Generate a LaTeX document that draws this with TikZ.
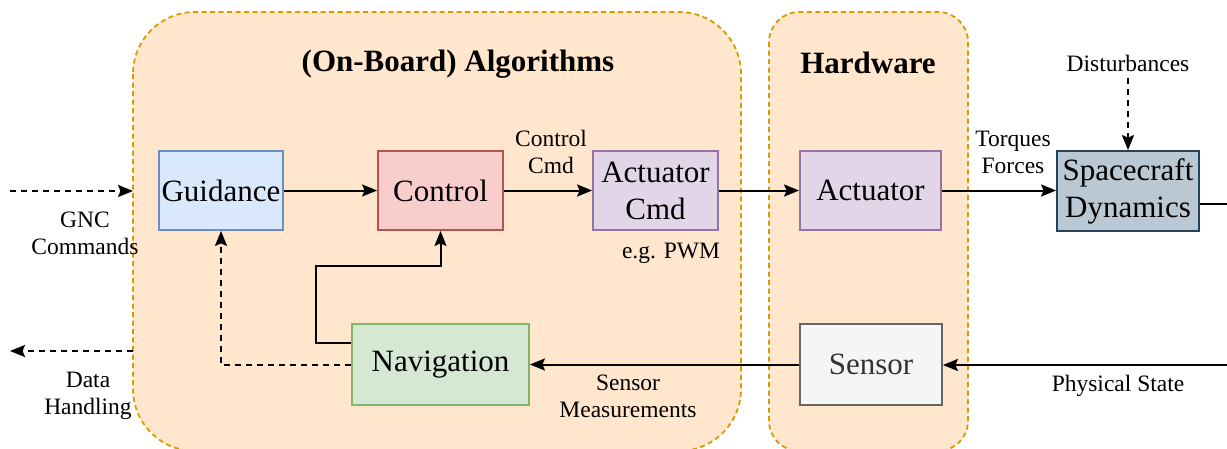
\documentclass[tikz,border=0pt]{standalone}
\usepackage{fontspec}
\setmainfont{Liberation Serif}
\newfontfamily\boxfont{Liberation Serif}
\usetikzlibrary{arrows.meta}
\definecolor{contfill}{HTML}{FFE6CC}
\definecolor{contdraw}{HTML}{D79B00}
\definecolor{blueF}{HTML}{DAE8FC}\definecolor{blueD}{HTML}{6C8EBF}
\definecolor{redF}{HTML}{F8CECC}\definecolor{redD}{HTML}{B85450}
\definecolor{purpF}{HTML}{E1D5E7}\definecolor{purpD}{HTML}{9673A6}
\definecolor{greenF}{HTML}{D5E8D4}\definecolor{greenD}{HTML}{82B366}
\definecolor{greyF}{HTML}{F5F5F5}\definecolor{greyD}{HTML}{666666}\definecolor{greyT}{HTML}{333333}
\definecolor{scF}{HTML}{BAC8D3}\definecolor{scD}{HTML}{23445D}
\tikzset{
  container/.style={draw=contdraw, fill=contfill, line width=1.8pt, dash pattern=on 5pt off 3.5pt},
  block/.style={draw, line width=1.8pt, inner sep=0pt, align=center,
    font=\boxfont\fontsize{31}{37}\selectfont},
  lbl/.style={inner sep=0pt, align=center, font=\boxfont\fontsize{23.5}{27}\selectfont},
  ttl/.style={inner sep=0pt, font=\boxfont\fontsize{31}{37}\selectfont\bfseries},
  arr/.style={line width=2pt, -{Stealth[length=15pt,width=12pt,inset=2.5pt]}},
  darr/.style={arr, dash pattern=on 6pt off 5pt},
}
\begin{document}
\begin{tikzpicture}[x=1pt,y=-1pt]
\useasboundingbox (0,0) rectangle (1227,448);
\clip (0,0) rectangle (1227,448);
% containers
\draw[container, rounded corners=62pt] (133,12) rectangle (741,451);
\draw[container, rounded corners=30pt] (769,12) rectangle (968,451);
\node[ttl] (talg) at (458,64) {(On-Board) Algorithms};
\node[ttl] (thw) at (868,63) {Hardware};
% blocks
\node[block, fill=blueF, draw=blueD, minimum width=124pt, minimum height=79pt] (guid) at (221,190.5) {Guidance};
\node[block, fill=redF, draw=redD, minimum width=125pt, minimum height=79pt] (ctrl) at (440.5,190.5) {Control};
\node[block, fill=purpF, draw=purpD, minimum width=125pt, minimum height=79pt] (acmd) at (655.5,190.5) {Actuator\\Cmd};
\node[block, fill=purpF, draw=purpD, minimum width=141pt, minimum height=79pt] (act) at (870.5,190.5) {Actuator};
\node[block, fill=scF, draw=scD, minimum width=142pt, minimum height=80pt] (sc) at (1128,191) {Spacecraft\\Dynamics};
\node[block, fill=greenF, draw=greenD, minimum width=177pt, minimum height=81pt] (nav) at (440.5,364.5) {Navigation};
\node[block, fill=greyF, draw=greyD, text=greyT, minimum width=142pt, minimum height=81pt] (sens) at (871,364.5) {Sensor};
% labels
\node[lbl] (lgnc) at (85,233) {GNC\\Commands};
\node[lbl] (ldata) at (88,396) {Data\\Handling};
\node[lbl] (lcc) at (551,152) {Control\\Cmd};
\node[lbl] (lpwm) at (671,253) {e.g. PWM};
\node[lbl] (ltf) at (1013,152) {Torques\\Forces};
\node[lbl] (lsm) at (628,396) {Sensor\\Measurements};
\node[lbl] (lps) at (1118,386) {Physical State};
\node[lbl] (ldist) at (1128,63) {Disturbances};
% coordinates
\coordinate (gncA) at (10,191);
\coordinate (gncB) at (133,191);
\coordinate (dhA) at (133,351);
\coordinate (dhB) at (10,351);
\coordinate (scout) at (1232,204);
\coordinate (psin) at (1232,365);
% connectors
\draw[darr] (gncA) -- (gncB);
\draw[darr] (dhA) -- (dhB);
\draw[arr] (guid) -- (ctrl);
\draw[arr] (ctrl) -- (acmd);
\draw[arr] (acmd) -- (act);
\draw[arr] (act) -- (sc.west |- act.east);
\draw[darr] ([yshift=-7pt]ldist.south) -- (sc.north);
\draw[line width=2pt] ([yshift=-13pt]sc.east) -- (scout);
\draw[arr] (psin) -- (sens.east |- psin);
\draw[arr] (sens) -- (nav);
\draw[arr] ([yshift=21.5pt]nav.west) -- ++(-35,0) |- ([yshift=-35pt]ctrl.south) -- (ctrl.south);
\draw[darr] (nav.west) -| (guid.south);
\end{tikzpicture}
\end{document}
